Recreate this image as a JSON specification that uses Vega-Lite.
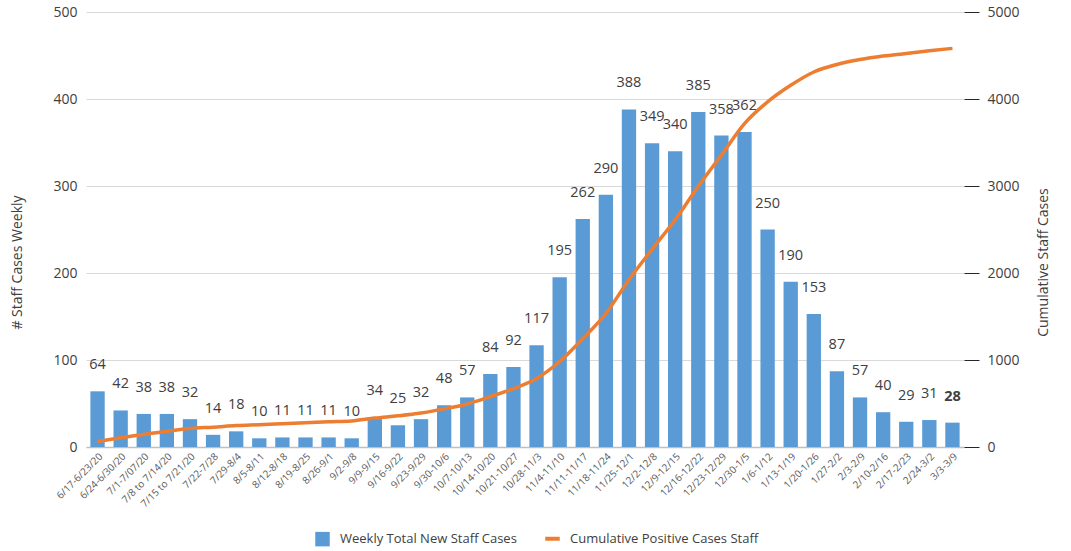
{
  "$schema": "https://vega.github.io/schema/vega-lite/v6.json",
  "autosize": {"type": "none"},
  "width": 878,
  "height": 435,
  "padding": {"left": 86, "top": 12, "right": 107, "bottom": 104},
  "background": "white",
  "config": {
    "font": "Open Sans",
    "view": {"stroke": null},
    "axis": {"labelFont": "Open Sans", "titleFont": "Open Sans"}
  },
  "data": {
    "values": [
      {"week": "6/17-6/23/20", "weekly": 64, "cumulative": 64},
      {"week": "6/24-6/30/20", "weekly": 42, "cumulative": 106},
      {"week": "7/1-7/07/20", "weekly": 38, "cumulative": 144},
      {"week": "7/8 to 7/14/20", "weekly": 38, "cumulative": 182},
      {"week": "7/15 to 7/21/20", "weekly": 32, "cumulative": 214},
      {"week": "7/22-7/28", "weekly": 14, "cumulative": 228},
      {"week": "7/29-8/4", "weekly": 18, "cumulative": 246},
      {"week": "8/5-8/11", "weekly": 10, "cumulative": 256},
      {"week": "8/12-8/18", "weekly": 11, "cumulative": 267},
      {"week": "8/19-8/25", "weekly": 11, "cumulative": 278},
      {"week": "8/26-9/1", "weekly": 11, "cumulative": 289},
      {"week": "9/2-9/8", "weekly": 10, "cumulative": 299},
      {"week": "9/9-9/15", "weekly": 34, "cumulative": 333},
      {"week": "9/16-9/22", "weekly": 25, "cumulative": 358},
      {"week": "9/23-9/29", "weekly": 32, "cumulative": 390},
      {"week": "9/30-10/6", "weekly": 48, "cumulative": 438},
      {"week": "10/7-10/13", "weekly": 57, "cumulative": 495},
      {"week": "10/14-10/20", "weekly": 84, "cumulative": 579},
      {"week": "10/21-10/27", "weekly": 92, "cumulative": 671},
      {"week": "10/28-11/3", "weekly": 117, "cumulative": 788},
      {"week": "11/4-11/10", "weekly": 195, "cumulative": 983},
      {"week": "11/11-11/17", "weekly": 262, "cumulative": 1245},
      {"week": "11/18-11/24", "weekly": 290, "cumulative": 1535},
      {"week": "11/25-12/1", "weekly": 388, "cumulative": 1923},
      {"week": "12/2-12/8", "weekly": 349, "cumulative": 2272},
      {"week": "12/9-12/15", "weekly": 340, "cumulative": 2612},
      {"week": "12/16-12/22", "weekly": 385, "cumulative": 2997},
      {"week": "12/23-12/29", "weekly": 358, "cumulative": 3355},
      {"week": "12/30-1/5", "weekly": 362, "cumulative": 3717},
      {"week": "1/6-1/12", "weekly": 250, "cumulative": 3967},
      {"week": "1/13-1/19", "weekly": 190, "cumulative": 4157},
      {"week": "1/20-1/26", "weekly": 153, "cumulative": 4310},
      {"week": "1/27-2/2", "weekly": 87, "cumulative": 4397},
      {"week": "2/3-2/9", "weekly": 57, "cumulative": 4454},
      {"week": "2/10-2/16", "weekly": 40, "cumulative": 4494},
      {"week": "2/17-2/23", "weekly": 29, "cumulative": 4523},
      {"week": "2/24-3/2", "weekly": 31, "cumulative": 4554},
      {"week": "3/3-3/9", "weekly": 28, "cumulative": 4582}
    ]
  },
  "encoding": {
    "x": {
      "field": "week",
      "type": "nominal",
      "sort": null,
      "scale": {"paddingInner": 0.38, "paddingOuter": 0.19},
      "axis": {
        "title": null,
        "labelAngle": -45,
        "labelAlign": "right",
        "labelBaseline": "top",
        "labelFontSize": 10,
        "labelColor": "#595959",
        "labelPadding": 4,
        "ticks": false,
        "domainColor": "#bfbfbf",
        "domainWidth": 1.5,
        "grid": false
      }
    }
  },
  "layer": [
    {
      "encoding": {
        "y": {
          "field": "weekly",
          "type": "quantitative",
          "scale": {"domain": [0, 500]},
          "axis": {
            "title": "# Staff Cases Weekly",
            "titleFontSize": 14,
            "titleFontWeight": "normal",
            "titleColor": "#404040",
            "titlePadding": 28,
            "titleAngle": -90,
            "titleY": 250,
            "values": [0, 100, 200, 300, 400, 500],
            "labelFontSize": 14,
            "labelColor": "#404040",
            "labelPadding": 9,
            "ticks": false,
            "domain": false,
            "grid": true,
            "gridColor": "#d9d9d9",
            "gridWidth": 1
          }
        }
      },
      "layer": [
        {
          "mark": {"type": "bar", "color": "#5B9BD5"},
          "encoding": {
            "color": {
              "datum": "Weekly Total New Staff Cases",
              "scale": {
                "domain": ["Weekly Total New Staff Cases", "Cumulative Positive Cases Staff"],
                "range": ["#5B9BD5", "#ED7D31"]
              },
              "legend": {
                "title": null,
                "orient": "none",
                "direction": "horizontal",
                "legendX": 230,
                "legendY": 520,
                "labelFontSize": 13,
                "labelColor": "#404040",
                "labelFont": "Open Sans",
                "labelLimit": 400,
                "symbolSize": 210,
                "labelOffset": 11,
                "columnPadding": 20,
                "encode": {
                  "symbols": {
                    "update": {
                      "shape": {"signal": "datum.value === 'Cumulative Positive Cases Staff' ? 'stroke' : 'square'"},
                      "stroke": {"scale": "color", "field": "value"},
                      "fill": {"scale": "color", "field": "value"},
                      "strokeWidth": {"signal": "datum.value === 'Cumulative Positive Cases Staff' ? 4 : 0"},
                      "opacity": {"value": 1}
                    }
                  }
                }
              }
            }
          }
        },
        {
          "transform": [{"filter": "datum.week !== '3/3-3/9'"}],
          "mark": {"type": "text", "fontSize": 14.5, "color": "#404040", "dy": -26, "baseline": "middle"},
          "encoding": {"text": {"field": "weekly", "type": "quantitative"}}
        },
        {
          "transform": [{"filter": "datum.week === '3/3-3/9'"}],
          "mark": {"type": "text", "fontSize": 14.5, "fontWeight": "bold", "color": "#404040", "dy": -26, "baseline": "middle"},
          "encoding": {"text": {"field": "weekly", "type": "quantitative"}}
        }
      ]
    },
    {
      "mark": {"type": "line", "strokeWidth": 3.5, "interpolate": "monotone", "color": "#ED7D31"},
      "encoding": {
        "y": {
          "field": "cumulative",
          "type": "quantitative",
          "scale": {"domain": [0, 5000]},
          "axis": {
            "orient": "right",
            "title": "Cumulative Staff Cases",
            "titleFontSize": 14,
            "titleFontWeight": "normal",
            "titleColor": "#404040",
            "titleAngle": -90,
            "titlePadding": 31,
            "titleY": 250,
            "values": [0, 1000, 2000, 3000, 4000, 5000],
            "format": "d",
            "labelFontSize": 14,
            "labelColor": "#404040",
            "labelPadding": 8,
            "ticks": true,
            "tickSize": 15,
            "tickColor": "#262626",
            "tickWidth": 1,
            "domain": false,
            "grid": false
          }
        },
        "color": {"datum": "Cumulative Positive Cases Staff"}
      }
    }
  ],
  "resolve": {"scale": {"y": "independent"}}
}
